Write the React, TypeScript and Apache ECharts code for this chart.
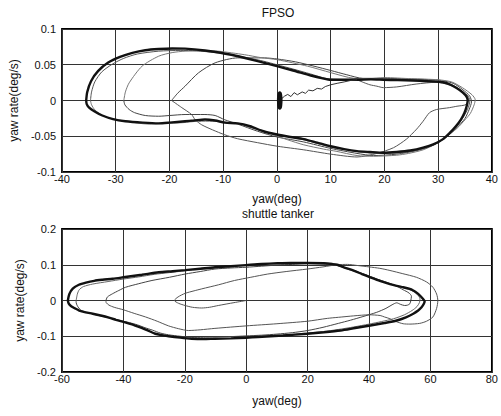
import React, { useEffect, useRef } from "react";
import * as echarts from "echarts";

// ---------- FPSO (top) ----------
const fpsoXTicks = [-40, -30, -20, -10, 0, 10, 20, 30, 40];
const fpsoYTicks = [-0.1, -0.05, 0, 0.05, 0.1];

const fpsoOsc = [
  [0.52, 0.0105], [0.66, 0.0074], [0.72, 0], [0.66, -0.0074], [0.52, -0.0105],
  [0.38, -0.0074], [0.32, 0], [0.38, 0.0074], [0.52, 0.0105], [0.66, 0.0074], [0.72, 0],
];
const fpsoWiggle = [
  [0.72, 0.002], [1.1, 0.004], [1.4, 0.006], [2.0, 0.0085], [2.6, 0.0055], [3.2, 0.011],
  [3.8, 0.008], [4.7, 0.012], [5.3, 0.010], [5.9, 0.0145], [6.7, 0.0135], [7.5, 0.017],
  [8.3, 0.016], [9.0, 0.0195], [10, 0.022], [11.2, 0.024], [12.5, 0.026], [13.7, 0.028], [14.9, 0.029],
];
const fpsoPass1 = [
  [14.9, 0.029], [16.2, 0.025], [17.3, 0.022], [18.6, 0.02], [19.8, 0.018], [22.3, 0.019],
  [25.9, 0.023], [29.7, 0.0255], [32, 0.022], [33.8, 0.016], [35, 0.009], [35.6, 0.002],
  [35.2, -0.0056], [33.5, -0.008], [32.1, -0.01], [29.7, -0.0126], [28.4, -0.017], [27.2, -0.029],
  [26, -0.04], [24.1, -0.054], [21.7, -0.066], [18.6, -0.074], [14.9, -0.079], [10, -0.075],
  [5, -0.069], [0.1, -0.064], [-3.6, -0.059], [-7.3, -0.0535], [-9.7, -0.048], [-12, -0.041],
  [-14, -0.034], [-15.2, -0.027], [-15.9, -0.0195], [-17.7, -0.01], [-19.6, 0],
];
const fpsoPass2 = [
  [-19.6, 0], [-18.5, 0.01], [-17.1, 0.02], [-14.6, 0.0387], [-11.5, 0.0527], [-7.3, 0.0596],
  [-2.3, 0.0596], [0.1, 0.058], [3.5, 0.054], [6.9, 0.048], [10, 0.042], [13, 0.036], [16, 0.031],
  [20, 0.031], [25, 0.03], [30, 0.0285], [32.8, 0.024], [34.6, 0.015], [35.9, 0.006], [36.2, -0.002],
  [35.8, -0.012], [35, -0.025], [33.5, -0.038], [31.5, -0.051], [29, -0.062], [26, -0.07],
  [22.3, -0.075], [18, -0.077], [14.9, -0.074], [10, -0.067], [5, -0.058], [0, -0.051],
  [-3.6, -0.043], [-7.3, -0.033], [-9.7, -0.027], [-11.5, -0.021], [-13.4, -0.0196], [-17.1, -0.0196],
  [-20, -0.021], [-22, -0.022], [-24.5, -0.021], [-26.5, -0.017], [-27.5, -0.0126], [-28.3, -0.006], [-28.5, 0],
];
const fpsoPass3 = [
  [-28.5, 0], [-28.2, 0.012], [-27.5, 0.0247], [-25.1, 0.048], [-22, 0.062], [-19.5, 0.067],
  [-17.1, 0.069], [-13, 0.0695], [-10.9, 0.069], [-6, 0.064], [-3, 0.06], [0.1, 0.057], [5.7, 0.048],
  [10, 0.039], [14.3, 0.031], [17, 0.0305], [20, 0.032], [25, 0.0305], [30, 0.029], [32.5, 0.026],
  [34.5, 0.018], [36.3, 0.008], [36.9, 0.001], [36.7, -0.006], [36, -0.018], [35, -0.027],
  [33.5, -0.039], [31.5, -0.051], [29.5, -0.061], [27.2, -0.069], [24.5, -0.074], [22.3, -0.0765],
  [18, -0.078], [14.9, -0.077], [11, -0.071], [8.7, -0.068], [5, -0.062], [2, -0.055], [-1, -0.047],
  [-4, -0.04], [-7, -0.033], [-10, -0.03], [-12, -0.029], [-14.6, -0.029], [-17.5, -0.031],
  [-21, -0.032], [-24, -0.033], [-28, -0.029], [-31, -0.025], [-32.7, -0.02], [-33.9, -0.013],
  [-34.5, -0.006], [-34.7, 0],
];
const fpsoPass4 = [
  [-34.7, 0], [-34.5, 0.012], [-33.9, 0.026], [-32.6, 0.04], [-30.6, 0.051], [-28.5, 0.059],
  [-26, 0.065], [-22, 0.069], [-18, 0.07], [-15, 0.0695], [-11.5, 0.067], [-8.5, 0.064], [-5, 0.059],
  [-2.5, 0.055], [0, 0.05], [3, 0.044], [6.3, 0.037], [8.5, 0.032], [10, 0.03], [12.5, 0.0295],
  [15, 0.0298], [20, 0.0305], [25, 0.029], [30, 0.027], [32.6, 0.022], [34.5, 0.013], [35.6, 0.006],
  [35.9, 0], [35.6, -0.01], [34.8, -0.022], [33.6, -0.035], [32, -0.048], [30, -0.059], [27.5, -0.067],
  [25, -0.071], [22, -0.0735], [19, -0.074], [16, -0.0725], [13, -0.069], [10, -0.065], [7.5, -0.06],
  [5, -0.055], [2.5, -0.051], [0, -0.048],
];
const fpsoLimit = [
  [-35.5, 0], [-35.3, 0.012], [-34.6, 0.027], [-33.3, 0.041], [-31.4, 0.053], [-29.2, 0.061],
  [-26.9, 0.0666], [-24.5, 0.0703], [-22, 0.072], [-19.5, 0.0728], [-17.1, 0.0726], [-13.4, 0.07],
  [-8.5, 0.064], [-3.6, 0.055], [0, 0.048], [3, 0.042], [6.3, 0.035], [8.5, 0.031], [10, 0.029],
  [12.5, 0.029], [14.9, 0.029], [17.5, 0.0295], [19.8, 0.029], [22.5, 0.0285], [25.3, 0.028],
  [28, 0.027], [30.9, 0.0255], [32.3, 0.022], [33.5, 0.017], [34.6, 0.011], [35.3, 0.005], [35.5, 0],
  [35.3, -0.008], [34.9, -0.017], [34.2, -0.027], [33.3, -0.036], [32.2, -0.045], [30.9, -0.054],
  [29.2, -0.061], [27.2, -0.066], [24.8, -0.07], [22.3, -0.072], [19.8, -0.073], [17.3, -0.072],
  [14.9, -0.0708], [12.5, -0.068], [10, -0.064], [7.5, -0.059], [5, -0.054], [2.5, -0.051],
  [0, -0.0475], [-2.5, -0.043], [-5, -0.036], [-7.3, -0.032], [-9.7, -0.031], [-11.5, -0.028],
  [-13.4, -0.0265], [-15.5, -0.028], [-17.1, -0.029], [-20, -0.031], [-22, -0.032], [-25, -0.031],
  [-28.2, -0.029], [-30.5, -0.026], [-32.5, -0.021], [-34, -0.015], [-35, -0.0095], [-35.4, -0.005], [-35.5, 0],
];

// ---------- shuttle tanker (bottom) ----------
const shipXTicks = [-60, -40, -20, 0, 20, 40, 60, 80];
const shipYTicks = [-0.2, -0.1, 0, 0.1, 0.2];

const shipPass1 = [
  [0, 0], [-4, -0.006], [-9.1, -0.014], [-12, -0.019], [-14.5, -0.021], [-17.5, -0.019],
  [-19.9, -0.014], [-22, -0.008], [-23.4, 0], [-22.2, 0.01], [-19.9, 0.02], [-17, 0.027],
  [-14.5, 0.0325], [-9, 0.044], [-3.8, 0.056], [1.5, 0.065], [7, 0.074], [13, 0.081], [19.9, 0.088],
  [25, 0.094], [29.6, 0.1], [33, 0.101], [36.1, 0.098], [40, 0.094], [43.5, 0.09], [46.8, 0.084],
  [51, 0.075], [55.4, 0.065], [58.7, 0.052], [60.8, 0.037], [62, 0.018], [62.4, 0], [62, -0.022],
  [60.8, -0.046], [58.7, -0.058], [56.5, -0.064], [53.3, -0.066], [51.1, -0.065], [48.5, -0.058],
  [46.8, -0.051], [45, -0.046], [43.6, -0.042], [40, -0.04], [35, -0.043], [30, -0.047],
  [26.4, -0.05], [19.9, -0.058], [10, -0.065], [0, -0.071], [-10.2, -0.078], [-15, -0.082],
  [-18.8, -0.084], [-22, -0.079], [-25.3, -0.071], [-29, -0.058], [-32.8, -0.046], [-36.5, -0.036],
  [-40, -0.026], [-43, -0.019], [-44.7, -0.013], [-45.6, -0.006], [-45.7, 0],
];
const shipPass2 = [
  [-45.7, 0], [-45.2, 0.01], [-43.6, 0.0186], [-41.5, 0.028], [-39.3, 0.037], [-35, 0.047],
  [-30.7, 0.056], [-25, 0.065], [-19.9, 0.074], [-15, 0.081], [-10.2, 0.088], [-5, 0.091], [0, 0.093],
  [5, 0.096], [10, 0.099], [15, 0.101], [20, 0.103], [25, 0.102], [28.5, 0.1], [31, 0.095], [34, 0.087],
  [38, 0.075], [42, 0.062], [46, 0.05], [49, 0.04], [51.1, 0.03], [53, 0.021], [53.8, 0.012],
  [53.6, 0], [53.3, -0.009], [52.5, -0.013], [51.6, -0.014], [50.3, -0.011], [49, -0.0065],
  [47.5, -0.012], [45.5, -0.022], [42.5, -0.033], [38, -0.045], [34, -0.055], [30, -0.064],
  [25, -0.075], [20, -0.084], [15, -0.09], [10, -0.094], [5, -0.097], [0, -0.099], [-5, -0.101],
  [-10.2, -0.102], [-14, -0.103], [-17.8, -0.103], [-21.5, -0.1], [-25.3, -0.096], [-28, -0.091],
  [-30.5, -0.083], [-33, -0.076], [-35.5, -0.068], [-38, -0.062], [-40.5, -0.057], [-43, -0.052],
  [-45.5, -0.047], [-48, -0.042], [-50.5, -0.037], [-52.5, -0.032], [-54, -0.026], [-55, -0.015],
  [-55.4, -0.005], [-55.4, 0],
];
const shipPass3 = [
  [-55.4, 0], [-55, 0.018], [-54.4, 0.03], [-53, 0.039], [-50, 0.046], [-45, 0.053], [-40, 0.06],
  [-35, 0.066], [-30, 0.073], [-25, 0.078], [-20, 0.083], [-15, 0.087], [-10, 0.091], [-5, 0.095],
  [0, 0.098], [5, 0.101], [10, 0.103], [15, 0.104], [20, 0.104], [25, 0.103], [28.5, 0.101],
  [31, 0.094], [34, 0.085], [37, 0.077], [40, 0.068], [43, 0.058], [46, 0.049], [49, 0.041],
  [52, 0.034], [54.5, 0.025], [56, 0.014], [56.6, 0.004], [56.4, -0.006], [55.6, -0.017], [54, -0.028],
  [51.5, -0.04], [48, -0.051], [44, -0.059], [40, -0.066], [35, -0.074], [30, -0.081], [25, -0.087],
  [20, -0.091], [12, -0.097], [4, -0.1],
];
const shipLimit = [
  [-58.1, 0], [-57.6, 0.018], [-56.5, 0.033], [-54.5, 0.044], [-52.2, 0.05], [-49.5, 0.055],
  [-46.8, 0.058], [-43.5, 0.061], [-40, 0.065], [-34, 0.072], [-28.5, 0.079], [-24, 0.082],
  [-19.9, 0.085], [-15, 0.089], [-10.2, 0.093], [-5, 0.096], [0, 0.099], [5, 0.102], [10.2, 0.104],
  [14.5, 0.105], [20, 0.105], [25.3, 0.104], [28, 0.102], [29.6, 0.1], [32, 0.092], [35, 0.0836],
  [37.7, 0.074], [40.4, 0.065], [43.5, 0.055], [46.8, 0.046], [49, 0.041], [51.1, 0.037], [53, 0.033],
  [54.4, 0.028], [55.8, 0.02], [56.8, 0.012], [57.6, 0.004], [58.1, -0.002], [57.8, -0.01],
  [57.1, -0.019], [56, -0.028], [54.4, -0.037], [52, -0.047], [49, -0.056], [45, -0.063],
  [40.4, -0.07], [35.5, -0.077], [30.7, -0.084], [25.3, -0.089], [19.9, -0.093], [12, -0.098],
  [3.8, -0.102], [0, -0.104], [-5, -0.106], [-10.2, -0.107], [-14, -0.108], [-17.8, -0.107],
  [-21.5, -0.104], [-25.3, -0.1], [-27.5, -0.097], [-29.6, -0.093], [-32.3, -0.083], [-35, -0.074],
  [-37.5, -0.066], [-40, -0.06], [-42.4, -0.054], [-44.7, -0.048], [-47.4, -0.042], [-50, -0.037],
  [-52.3, -0.033], [-54.4, -0.028], [-55.8, -0.022], [-57, -0.016], [-57.8, -0.009], [-58.1, 0],
];

const FONT = "'Liberation Sans', Arial, sans-serif";

function fmt(v: number) {
  return String(Math.round(v * 1000) / 1000);
}

function xAxisCfg(idx: number, ticks: number[], gap: number) {
  return {
    type: "value",
    gridIndex: idx,
    min: ticks[0],
    max: ticks[ticks.length - 1],
    interval: ticks[1] - ticks[0],
    name: "yaw(deg)",
    nameLocation: "middle",
    nameGap: gap,
    nameTextStyle: { fontFamily: FONT, fontSize: 12, lineHeight: 12, color: "#111" },
    axisLine: { show: false },
    axisTick: { show: false },
    axisLabel: { fontFamily: FONT, fontSize: 11, color: "#111", margin: 1, formatter: fmt },
    splitLine: { show: true, lineStyle: { color: "#333", width: 1 } },
  };
}

function yAxisCfg(idx: number, ticks: number[], gap: number) {
  return {
    type: "value",
    gridIndex: idx,
    min: ticks[0],
    max: ticks[ticks.length - 1],
    interval: ticks[1] - ticks[0],
    name: "yaw rate(deg/s)",
    nameLocation: "middle",
    nameGap: gap,
    nameRotate: 90,
    nameTextStyle: { fontFamily: FONT, fontSize: 12, color: "#111" },
    axisLine: { show: false },
    axisTick: { show: false },
    axisLabel: { fontFamily: FONT, fontSize: 11, color: "#111", margin: 6, formatter: fmt },
    splitLine: { show: true, lineStyle: { color: "#333", width: 1 } },
  };
}

function line(data: number[][], axis: number, color: string, width: number, smooth: number | boolean = 0.25) {
  return {
    type: "line",
    xAxisIndex: axis,
    yAxisIndex: axis,
    data,
    showSymbol: false,
    symbol: "none",
    smooth,
    silent: true,
    lineStyle: { color, width },
  };
}

export default function App() {
  const ref = useRef<HTMLDivElement>(null);
  useEffect(() => {
    if (!ref.current) return;
    const chart = echarts.init(ref.current, null, { renderer: "svg" });
    chart.setOption({
      animation: false,
      backgroundColor: "#fff",
      grid: [
        { left: 62, top: 29, width: 434, height: 143, show: true, borderColor: "#000", borderWidth: 1.8, backgroundColor: "transparent" },
        { left: 62, top: 229, width: 434, height: 143, show: true, borderColor: "#000", borderWidth: 1.8, backgroundColor: "transparent" },
      ],
      xAxis: [xAxisCfg(0, fpsoXTicks, 21), xAxisCfg(1, shipXTicks, 23)],
      yAxis: [yAxisCfg(0, fpsoYTicks, 38), yAxisCfg(1, shipYTicks, 23)],
      graphic: [
        { type: "text", x: 278, y: 13, style: { text: "FPSO", fill: "#111", font: `12px ${FONT}`, align: "center", verticalAlign: "middle" } },
        { type: "text", x: 278, y: 214, style: { text: "shuttle tanker", fill: "#111", font: `12px ${FONT}`, lineHeight: 12, align: "center", verticalAlign: "middle" } },
      ],
      series: [
        line(fpsoPass1, 0, "#555", 1),
        line(fpsoPass2, 0, "#444", 1),
        line(fpsoPass3, 0, "#777", 1),
        line(fpsoPass4, 0, "#555", 1),
        line(fpsoLimit, 0, "#111", 2.4),
        line(fpsoWiggle, 0, "#333", 1, false),
        line(fpsoOsc, 0, "#111", 3.5, 0.5),
        line(shipPass1, 1, "#555", 1),
        line(shipPass2, 1, "#444", 1),
        line(shipPass3, 1, "#666", 1),
        line(shipLimit, 1, "#111", 2.4),
      ],
    });
    return () => chart.dispose();
  }, []);
  return <div ref={ref} style={{ position: "fixed", left: 0, top: 0, width: 501, height: 416 }} />;
}
